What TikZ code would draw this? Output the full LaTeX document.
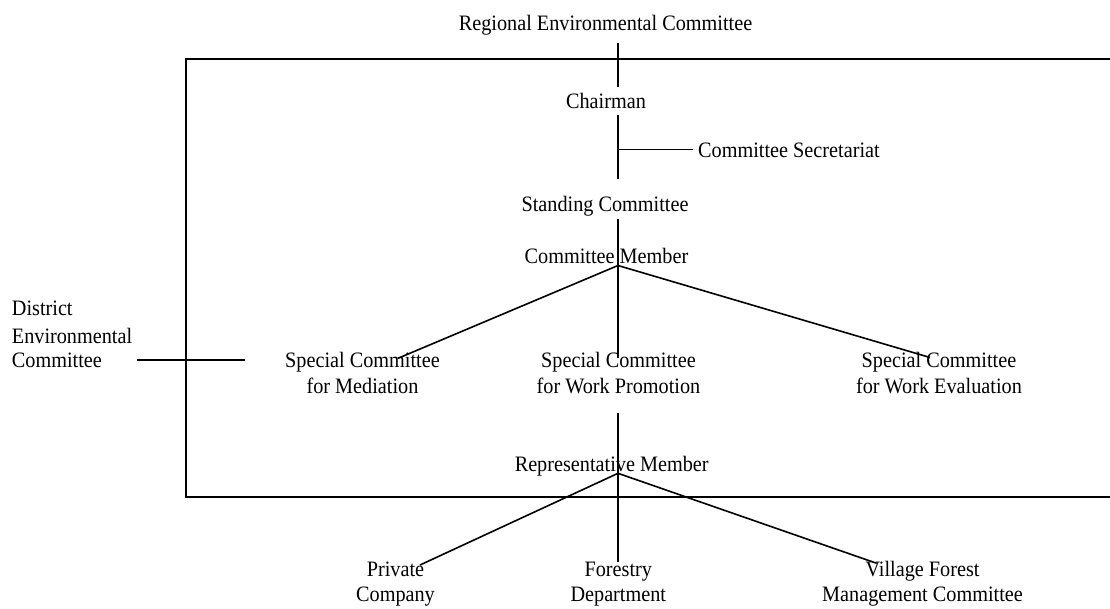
\documentclass[tikz,border=0pt]{standalone}
\usepackage{fontspec}
\setmainfont{Liberation Serif}[FakeStretch=0.92]
\begin{document}
\begin{tikzpicture}[x=1pt,y=-1pt,
  lbl/.style={inner sep=0pt,anchor=base,align=center,font=\fontsize{22}{26}\selectfont},
  lbll/.style={lbl,align=left,anchor=base west},
  link/.style={line width=1.6pt},
  frame/.style={line width=1.8pt}]
\useasboundingbox (0,0) rectangle (1110,608);

% open frame around the committee body (right side runs past the edge)
\draw[frame] (1112,59) -- (186,59) -- (186,497) -- (1112,497);

% labels (multi-line labels are placed by the baseline of their last line)
\node[lbl] (reg) at (605.5,30) {Regional Environmental Committee};
\node[lbl] (chair) at (606,108) {Chairman};
\node[lbl,anchor=base west] (sec) at (698,157) {Committee Secretariat};
\node[lbl] (stand) at (605,211.7) {Standing Committee};
\node[lbl] (member) at (606.5,263.3) {Committee Member};
\node[lbll] (dist) at (11.7,367.3) {District\\[2pt]Environmental\\[-2pt]Committee};
\node[lbl] (med) at (362.5,393.3) {Special Committee\\for Mediation};
\node[lbl] (prom) at (618.5,393.3) {Special Committee\\for Work Promotion};
\node[lbl] (eval) at (939,393.3) {Special Committee\\for Work Evaluation};
\node[lbl] (rep) at (611.7,471.7) {Representative Member};
\node[lbl,font=\fontsize{22}{25}\selectfont] (priv) at (395.5,601.7) {Private\\Company};
\node[lbl,font=\fontsize{22}{25}\selectfont] (forest) at (618.3,601.7) {Forestry\\Department};
\node[lbl,font=\fontsize{22}{25}\selectfont] (village) at (922.5,601.7) {Village Forest\\Management Committee};

% connector end points
\coordinate (regB) at (618,43);
\coordinate (chairT) at (618,87);
\coordinate (chairB) at (618,115);
\coordinate (standT) at (618,179.3);
\coordinate (secJ) at (618,149.5);
\coordinate (secE) at (692.7,149.5);
\coordinate (standB) at (618,219.3);
\coordinate (fan) at (618,265.5);
\coordinate (medT) at (398,358.3);
\coordinate (promT) at (618,358.3);
\coordinate (evalT) at (930,357.5);
\coordinate (distE) at (137,360);
\coordinate (distF) at (245,360);
\coordinate (promB) at (618,413);
\coordinate (repJ) at (618,473.3);
\coordinate (privT) at (420,565);
\coordinate (forestT) at (618,561.7);
\coordinate (villageT) at (876.7,563.3);

% connectors
\draw[link] (regB) -- (chairT);
\draw[link] (chairB) -- (standT);
\draw[link] (secJ) -- (secE);
\draw[link] (standB) -- (fan);
\draw[link] (fan) -- (medT);
\draw[link] (fan) -- (promT);
\draw[link] (fan) -- (evalT);
\draw[link] (distE) -- (distF);
\draw[link] (promB) -- (forestT);
\draw[link] (repJ) -- (privT);
\draw[link] (repJ) -- (villageT);
\end{tikzpicture}
\end{document}
